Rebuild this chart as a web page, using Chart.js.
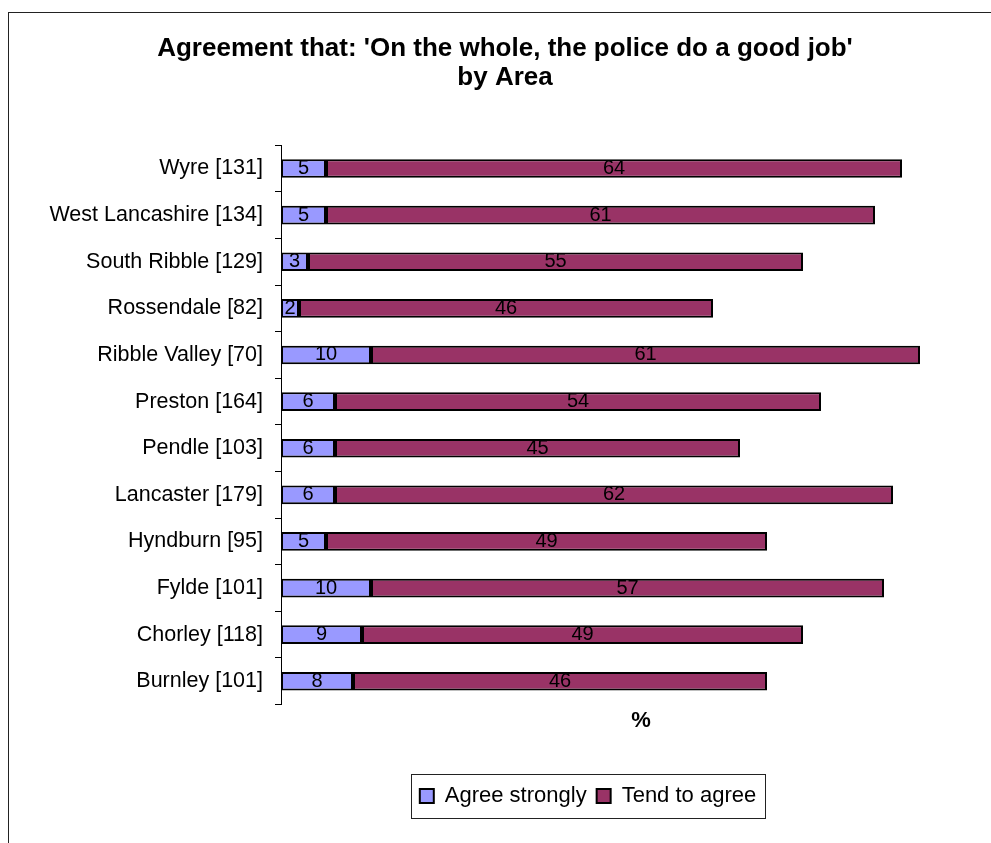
<!DOCTYPE html>
<html>
<head>
<meta charset="utf-8">
<title>Agreement that the police do a good job</title>
<script src="https://cdn.jsdelivr.net/npm/chart.js@4"></script>
<style>
	html, body { margin: 0; padding: 0; background: #fff; overflow: hidden; }
	#frame { position: absolute; left: 8px; top: 12px; width: 995px; height: 900px; border: 1px solid #222; }
	#chart { position: absolute; left: 0; top: 0; }
</style>
</head>
<body>
<div id="frame"></div>
<canvas id="chart" width="1010" height="870"></canvas>
<script>
// Chart data
const areas = [
	"Wyre [131]",
	"West Lancashire [134]",
	"South Ribble [129]",
	"Rossendale [82]",
	"Ribble Valley [70]",
	"Preston [164]",
	"Pendle [103]",
	"Lancaster [179]",
	"Hyndburn [95]",
	"Fylde [101]",
	"Chorley [118]",
	"Burnley [101]",
];
const agreeStrongly = [5, 5, 3, 2, 10, 6, 6, 6, 5, 10, 9, 8];
const tendToAgree = [64, 61, 55, 46, 61, 54, 45, 62, 49, 57, 49, 46];
const seriesNames = ["Agree strongly", "Tend to agree"];
const titleLines = ["Agreement that: 'On the whole, the police do a good job'", "by Area"];
const axisTitle = "%";

const FONT = "'Liberation Sans', Arial, sans-serif";
const LEGEND_SHIFT = 83;

Chart.defaults.font.family = FONT;
Chart.defaults.color = "#000";

// value written in the middle of each bar segment
const barLabels = {
	id: "barLabels",
	afterDatasetsDraw(chart) {
		const ctx = chart.ctx;
		ctx.save();
		ctx.font = `20px ${FONT}`;
		ctx.fillStyle = "#000";
		ctx.textAlign = "center";
		ctx.textBaseline = "middle";
		chart.data.datasets.forEach((ds, i) => {
			chart.getDatasetMeta(i).data.forEach((bar, j) => {
				ctx.fillText(ds.data[j], (bar.x + bar.base) / 2, bar.y);
			});
		});
		ctx.restore();
	},
};

// moves the legend right and draws a box round it
const legendFrame = {
	id: "legendFrame",
	afterLayout(chart) {
		const lg = chart.legend;
		lg.left += LEGEND_SHIFT;
		lg.right += LEGEND_SHIFT;
	},
	afterDraw(chart) {
		const lg = chart.legend;
		const ctx = chart.ctx;
		const pad = lg.options.labels.padding;
		const lw = lg.lineWidths[0];
		const x0 = (lg.left + pad + lg.right - lw) / 2;
		const x1 = x0 + lw - pad;
		const y0 = lg.top + pad;
		const h = lg.options.labels.font.size;
		ctx.save();
		ctx.strokeStyle = "#222";
		ctx.lineWidth = 1;
		ctx.strokeRect(Math.round(x0 - 9) + 0.5, Math.round(y0 - 11) + 0.5, Math.round(x1 - x0 + 18), h + 22);
		ctx.restore();
	},
};

new Chart(document.getElementById("chart"), {
	type: "bar",
	data: {
		labels: areas,
		datasets: [
			{
				label: seriesNames[0],
				data: agreeStrongly,
				backgroundColor: "#9999FF",
			},
			{
				label: seriesNames[1],
				data: tendToAgree,
				backgroundColor: "#993366",
			},
		],
	},
	options: {
		indexAxis: "y",
		responsive: false,
		animation: false,
		layout: {
			padding: { left: 9, right: 9, top: 0, bottom: 53 },
		},
		datasets: {
			bar: {
				borderColor: "#000",
				borderWidth: 2,
				borderSkipped: false,
				barPercentage: 0.4,
				categoryPercentage: 1,
			},
		},
		scales: {
			x: {
				stacked: true,
				min: 0,
				max: 80,
				ticks: { display: false },
				grid: { display: false, drawTicks: false },
				border: { display: false },
				title: {
					display: true,
					text: axisTitle,
					color: "#000",
					font: { size: 22, weight: "bold" },
					padding: { top: 3, bottom: 41 },
				},
			},
			y: {
				stacked: true,
				ticks: { color: "#000", font: { size: 21.5 }, padding: 12 },
				grid: { drawOnChartArea: false, color: "#000", tickLength: 6, offset: true },
				border: { color: "#000", width: 1 },
				afterFit(scale) {
					scale.width = 272;
				},
			},
		},
		plugins: {
			title: {
				display: true,
				text: titleLines,
				color: "#000",
				font: { size: 26, weight: "bold", lineHeight: 1.1 },
				padding: { top: 35, bottom: 53 },
			},
			legend: {
				position: "bottom",
				labels: {
					color: "#000",
					font: { size: 22 },
					boxWidth: 14,
					boxHeight: 14,
					padding: 10,
				},
			},
			tooltip: { enabled: false },
		},
	},
	plugins: [barLabels, legendFrame],
});
</script>
</body>
</html>
